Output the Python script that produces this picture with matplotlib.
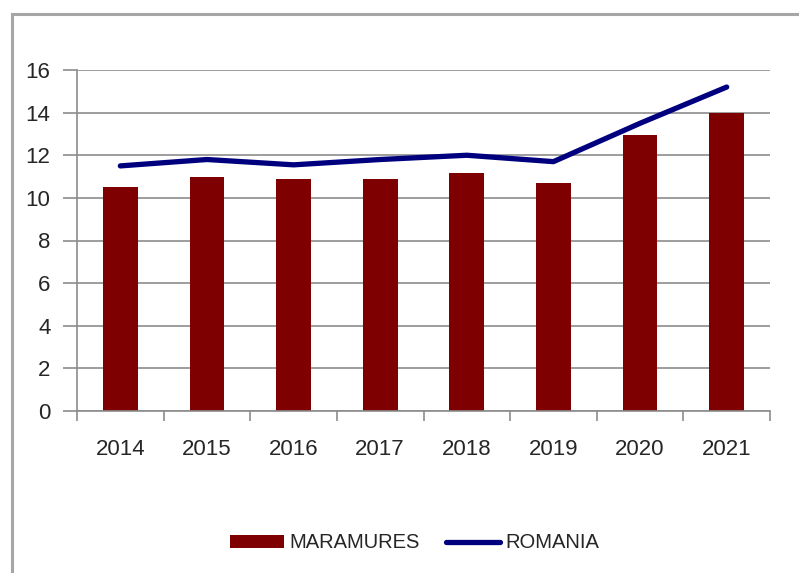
import numpy as np
import matplotlib
matplotlib.use("Agg")
import matplotlib.pyplot as plt
from matplotlib.lines import Line2D

# Data ------------------------------------------------------------------------
years = ["2014", "2015", "2016", "2017", "2018", "2019", "2020", "2021"]
maramures = [10.5, 11.0, 10.9, 10.9, 11.15, 10.7, 12.95, 14.0]
romania = [11.5, 11.8, 11.55, 11.8, 12.0, 11.7, 13.5, 15.2]

bar_color = "#7f0000"
line_color = "#00007f"
grid_color = "#8c8c8c"
text_color = "#262626"

plt.rcParams["font.family"] = ["Liberation Sans", "DejaVu Sans"]

fig = plt.figure(figsize=(7.99, 5.73), dpi=100)
ax = fig.add_axes([77/799, 1-411/573, 693/799, 341/573])

x = np.arange(len(years))
bars = ax.bar(x, maramures, width=0.4, color=bar_color, zorder=2,
              label="MARAMURES")
line, = ax.plot(x, romania, color=line_color, lw=3.8,
                solid_capstyle="round", solid_joinstyle="round", zorder=3,
                label="ROMANIA")

ax.set_xlim(-0.5, len(years) - 0.5)
ax.set_ylim(0, 16)
ax.set_yticks(np.arange(0, 17, 2))
ax.yaxis.grid(True, color=grid_color, lw=1.2, zorder=0)
ax.set_axisbelow(True)

# category ticks sit between the bars
ax.set_xticks(np.arange(-0.5, len(years), 1.0))
ax.set_xticklabels([])
ax.set_xticks(x, minor=True)
ax.set_xticklabels(years, minor=True)
ax.tick_params(axis="x", which="major", length=7, width=1.2,
               color=grid_color, direction="out")
ax.tick_params(axis="x", which="minor", length=0, pad=20,
               labelsize=16, labelcolor=text_color)
ax.tick_params(axis="y", length=10, width=1.2, color=grid_color,
               pad=9, labelsize=16, labelcolor=text_color)

for side in ["top", "right"]:
    ax.spines[side].set_visible(False)
for side in ["left", "bottom"]:
    ax.spines[side].set_color(grid_color)
    ax.spines[side].set_linewidth(1.2)

leg = fig.legend([bars, line], ["MARAMURES", "ROMANIA"], loc="center",
                 bbox_to_anchor=(0.519, 1-543/573), ncol=2,
                 frameon=False, fontsize=14.5, handlelength=2.7,
                 handleheight=0.6, handletextpad=0.25, columnspacing=1.3)
for t in leg.get_texts():
    t.set_color(text_color)

# outer frame (left and top edges only visible)
fig.add_artist(Line2D([12/799, 12/799], [0, 1-14/573], color="#a6a6a6",
                      lw=2.2, transform=fig.transFigure))
fig.add_artist(Line2D([12/799, 1], [1-14/573, 1-14/573], color="#a6a6a6",
                      lw=2.2, transform=fig.transFigure))

fig.savefig("out.png", dpi=100)
